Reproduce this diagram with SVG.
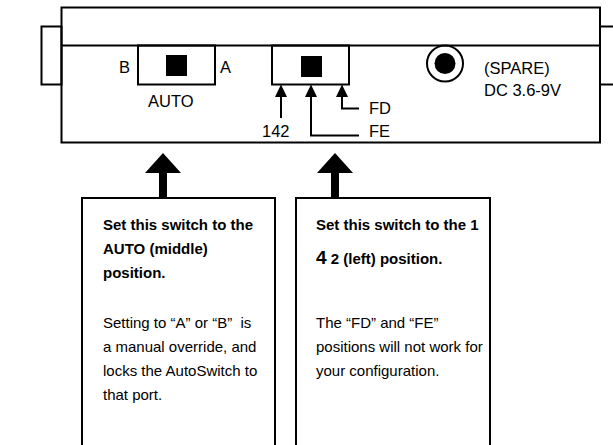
<svg xmlns="http://www.w3.org/2000/svg" width="613" height="445" viewBox="0 0 613 445">
<style>
.ln{fill:none;stroke:#000;stroke-width:2}
.blk{fill:#000;stroke:none}
.lbl{font-family:"Liberation Sans",Arial,sans-serif;font-size:16.5px;fill:#000}
.ttl{font-family:"Liberation Sans",Arial,sans-serif;font-size:15px;font-weight:bold;fill:#000}
.bdy{font-family:"Liberation Sans",Arial,sans-serif;font-size:15px;fill:#000;white-space:pre}
</style>
<rect width="613" height="445" fill="#fff"/>
<g id="device">
  <rect class="ln" x="41.5" y="26.5" width="20" height="58"/>
  <path class="ln" d="M600,26.5 H620 M600,84.5 H620"/>
  <rect class="ln" x="61.5" y="7.5" width="538.5" height="135" fill="#fff"/>
  <path class="ln" d="M61.5,45.5 H600"/>
</g>
<g id="switch-auto">
  <rect class="ln" x="138" y="45.5" width="77" height="39"/>
  <rect class="blk" x="166" y="55" width="21" height="21"/>
  <text class="lbl" x="119" y="73">B</text>
  <text class="lbl" x="220" y="73">A</text>
  <text class="lbl" x="148" y="106.5">AUTO</text>
</g>
<g id="switch-mode">
  <rect class="ln" x="272" y="45.5" width="77" height="39"/>
  <rect class="blk" x="301" y="56" width="21" height="21"/>
  <text class="lbl" x="262" y="136.5">142</text>
  <text class="lbl" x="369" y="114">FD</text>
  <text class="lbl" x="369" y="137">FE</text>
</g>
<g id="jack">
  <circle class="ln" cx="445" cy="63.5" r="18"/>
  <circle class="blk" cx="445" cy="63.5" r="10.5"/>
  <text class="lbl" x="484" y="74">(SPARE)</text>
  <text class="lbl" x="484" y="96">DC 3.6-9V</text>
</g>
<g id="connectors">
  <path class="ln" d="M281,96 V118"/>
  <path class="ln" d="M311,96 V135.5 H359"/>
  <path class="ln" d="M342,96 V108.5 H359"/>
  <polygon class="blk" points="281,84.5 275,97 287,97"/>
  <polygon class="blk" points="311,84.5 305,97 317,97"/>
  <polygon class="blk" points="342,84.5 336,97 348,97"/>
  <polygon class="blk" points="163,153 145,173 181,173"/>
  <rect class="blk" x="159" y="172" width="8" height="26"/>
  <polygon class="blk" points="335,153 317,173 353,173"/>
  <rect class="blk" x="331" y="172" width="8" height="26"/>
</g>
<g id="note-auto">
  <rect class="ln" x="82" y="198" width="193" height="260"/>
  <text class="ttl" x="103" y="230">Set this switch to the</text>
  <text class="ttl" x="103" y="254">AUTO (middle)</text>
  <text class="ttl" x="103" y="278">position.</text>
  <text class="bdy" x="103" y="328">Setting to “A” or “B”  is</text>
  <text class="bdy" x="103" y="352">a manual override, and</text>
  <text class="bdy" x="103" y="376">locks the AutoSwitch to</text>
  <text class="bdy" x="103" y="400">that port.</text>
</g>
<g id="note-mode">
  <rect class="ln" x="296" y="198" width="194" height="260"/>
  <text class="ttl" x="316" y="230">Set this switch to the 1</text>
  <text class="ttl" x="316" y="264"><tspan font-size="19">4</tspan> 2 (left) position.</text>
  <text class="bdy" x="316" y="328">The “FD” and “FE”</text>
  <text class="bdy" x="316" y="352">positions will not work for</text>
  <text class="bdy" x="316" y="376">your configuration.</text>
</g>
</svg>
